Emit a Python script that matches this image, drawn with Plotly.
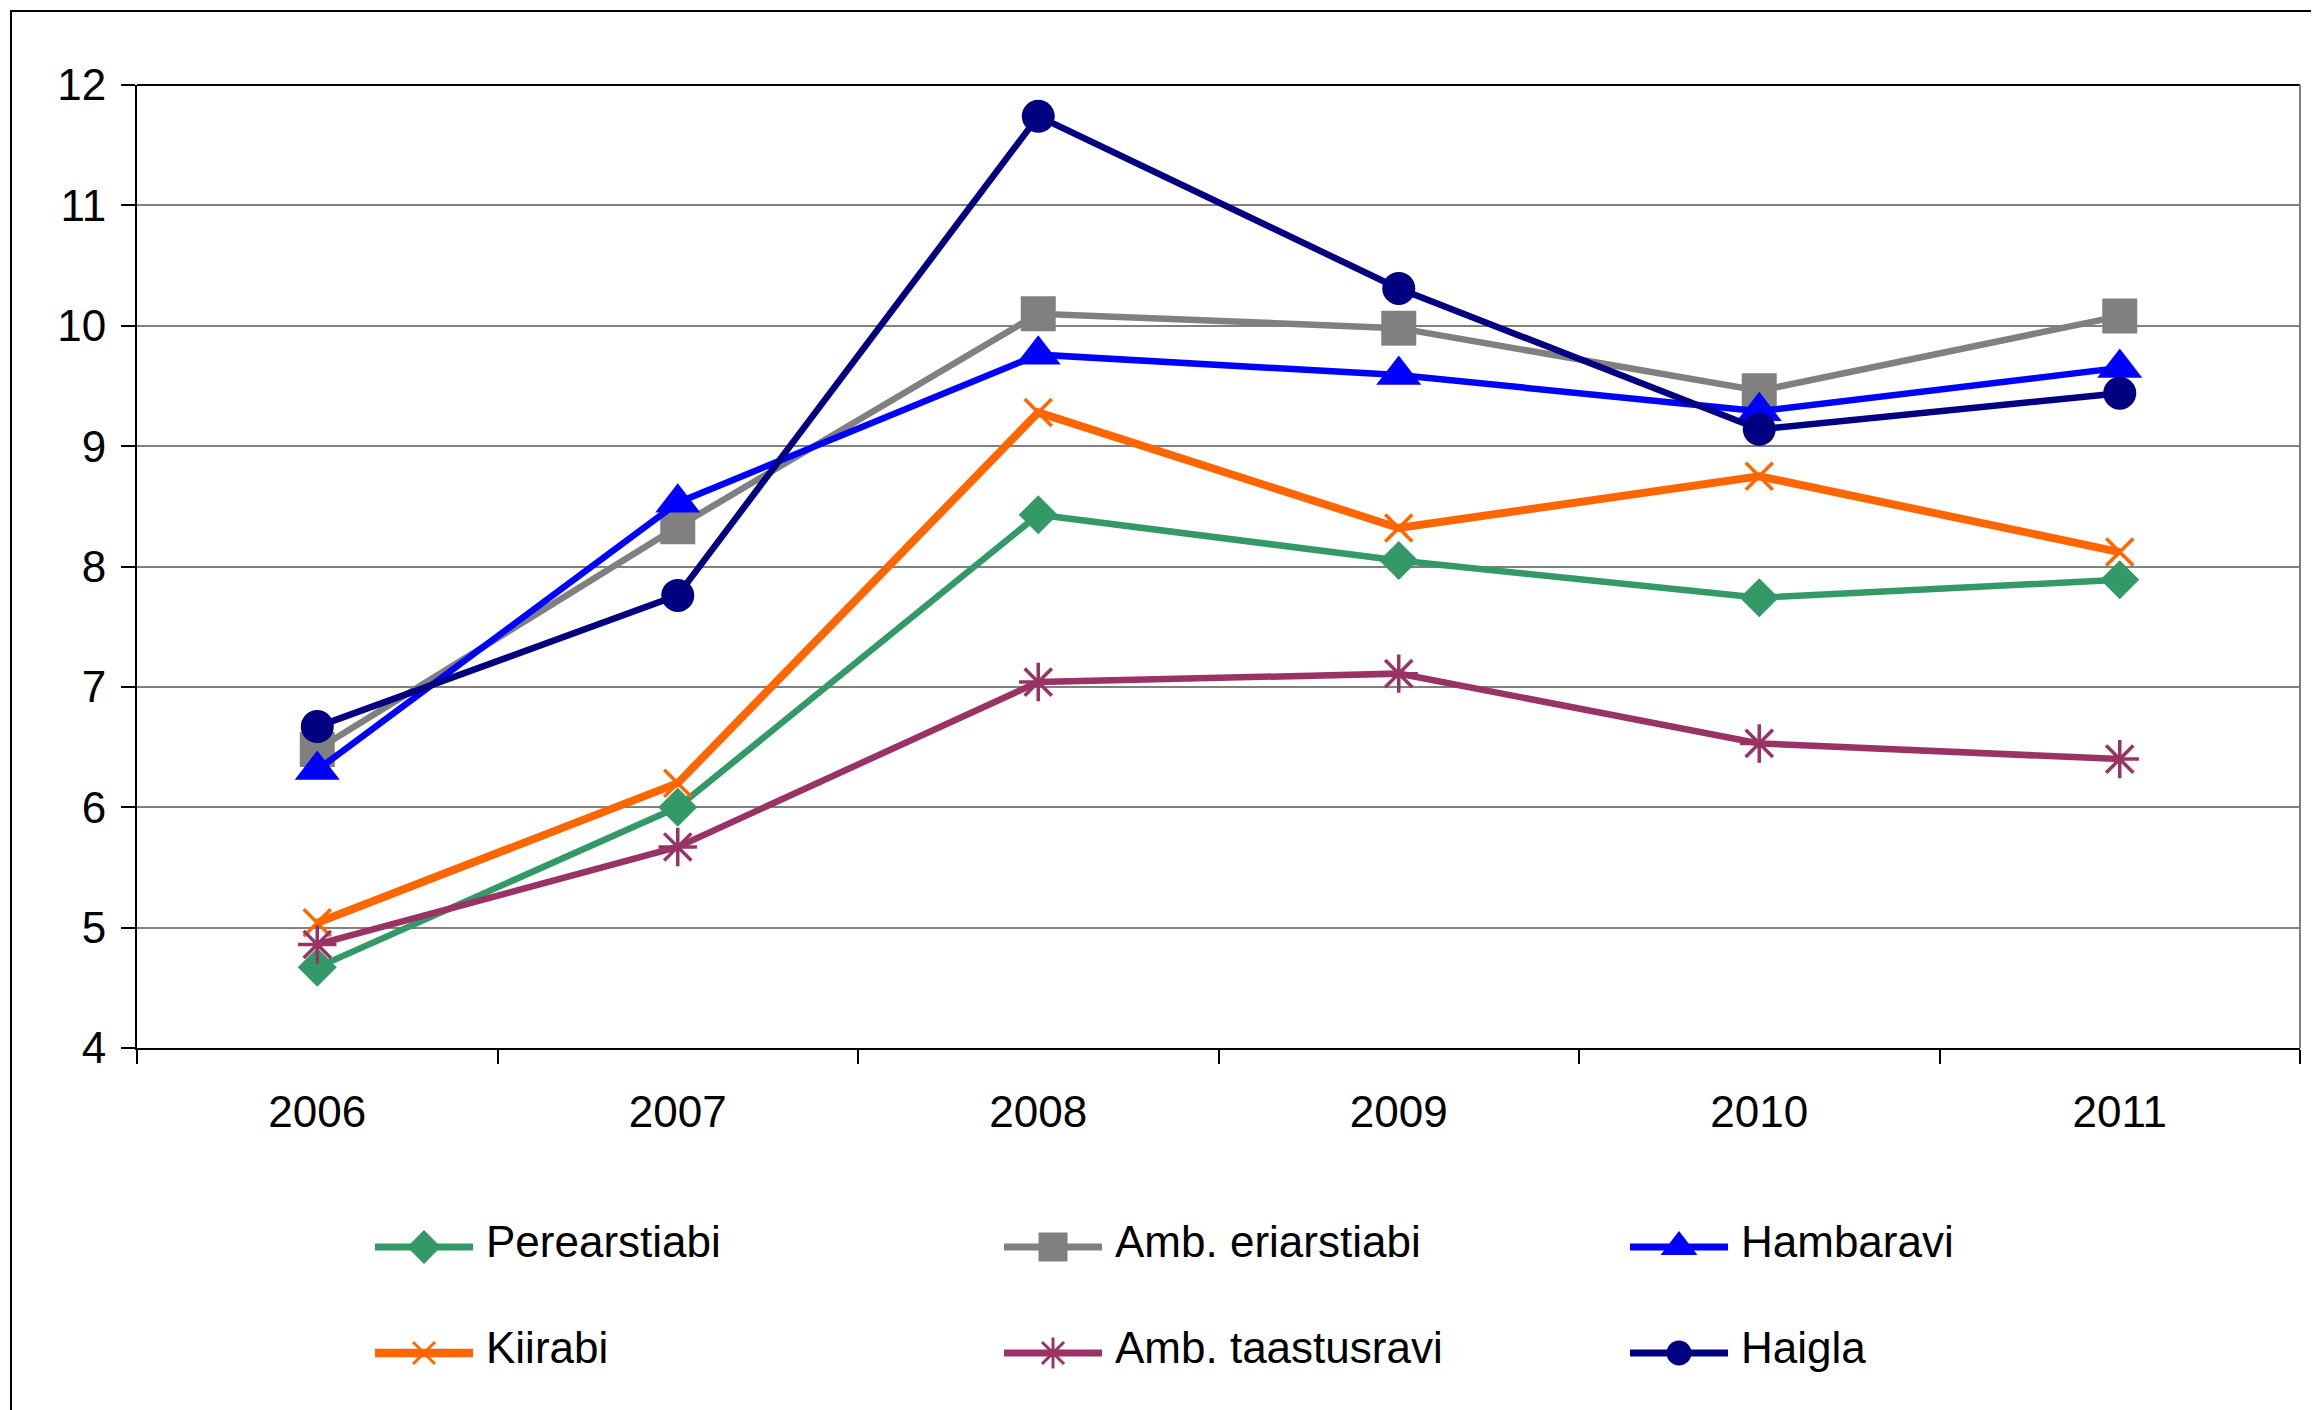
import plotly.graph_objects as go

years = ["2006", "2007", "2008", "2009", "2010", "2011"]

perearstiabi = [4.67, 6.00, 8.43, 8.05, 7.74, 7.89]
amb_eriarstiabi = [6.48, 8.33, 10.10, 9.98, 9.46, 10.08]
hambaravi = [6.31, 8.53, 9.76, 9.59, 9.29, 9.65]
kiirabi = [5.04, 6.20, 9.28, 8.32, 8.75, 8.12]
amb_taastusravi = [4.86, 5.67, 7.04, 7.11, 6.53, 6.40]
haigla = [6.67, 7.76, 11.74, 10.31, 9.14, 9.44]

names = ["Perearstiabi", "Amb. eriarstiabi", "Hambaravi",
         "Kiirabi", "Amb. taastusravi", "Haigla"]
series = [perearstiabi, amb_eriarstiabi, hambaravi, kiirabi, amb_taastusravi, haigla]
colors = ["#339966", "#808080", "#0000FF", "#FF6600", "#993366", "#000080"]
symbols = ["diamond", "square", "triangle-up", "x-thin", "asterisk", "circle"]
sizes = [30, 35, 39, 27, 32, 33]
legend_sizes = [26, 29, 32, 22, 26, 25]
widths = [6.5, 6.5, 6.5, 8, 6.5, 6.5]

FONT = "Liberation Sans, Arial, sans-serif"

# figure geometry (page offset of 8px from default body margin)
W, H = 2311, 1402
OFF = 8
PL, PR, PT, PB = 137 - OFF, 2300 - OFF, 85 - OFF, 1048 - OFF

# legend layout (page pixel positions of the key columns / rows)
leg_cols = [(375, 473), (1004, 1102), (1630, 1728)]
leg_rows = [1247, 1353]

fig = go.Figure()
for name, vals, col, sym, sz, w in zip(names, series, colors, symbols, sizes, widths):
    thin = sym in ("x-thin", "asterisk")
    fig.add_trace(go.Scatter(
        x=years, y=vals, name=name, mode="lines+markers",
        line=dict(color=col, width=w),
        marker=dict(symbol=sym, size=sz, color=col,
                    line=dict(color=col, width=3.5 if thin else 0)),
        showlegend=False, xaxis="x", yaxis="y",
    ))

annotations = []
for i, (name, col, sym, lsz, w) in enumerate(zip(names, colors, symbols, legend_sizes, widths)):
    c0, c1 = leg_cols[i % 3]
    ry = leg_rows[i // 3] - OFF
    xa, xb = c0 - OFF, c1 - OFF
    xc = (xa + xb) / 2
    thin = sym in ("x-thin", "asterisk")
    fig.add_trace(go.Scatter(
        x=[xa, xb], y=[ry, ry], mode="lines", line=dict(color=col, width=w + 0.5),
        showlegend=False, hoverinfo="skip", xaxis="x2", yaxis="y2",
    ))
    fig.add_trace(go.Scatter(
        x=[xc], y=[ry], mode="markers",
        marker=dict(symbol=sym, size=lsz, color=col,
                    line=dict(color=col, width=3 if thin else 0)),
        showlegend=False, hoverinfo="skip", xaxis="x2", yaxis="y2",
    ))
    annotations.append(dict(
        x=xb + 11, y=ry - 6, xref="x2", yref="y2", text=name, showarrow=False,
        xanchor="left", yanchor="middle",
        font=dict(family=FONT, size=44, color="black"),
    ))

fig.update_layout(
    template="none",
    width=W, height=H,
    margin=dict(l=0, r=0, t=0, b=0, pad=0),
    paper_bgcolor="white", plot_bgcolor="rgba(0,0,0,0)",
    font=dict(family=FONT, size=44, color="black"),
    showlegend=False,
    xaxis=dict(type="category", domain=[PL / W, PR / W], anchor="y",
               range=[-0.5, len(years) - 0.5], autorange=False,
               showgrid=False, showline=True, linecolor="black",
               linewidth=2, ticks="outside", tickson="boundaries", ticklen=14,
               tickcolor="black", tickwidth=1.5,
               tickfont=dict(family=FONT, size=44, color="black"),
               ticklabelstandoff=24, zeroline=False, automargin=False),
    yaxis=dict(range=[4, 12], dtick=1, domain=[(H - PB) / H, (H - PT) / H], anchor="x",
               showgrid=True, gridcolor="#808080",
               gridwidth=2, showline=True, linecolor="black", linewidth=2,
               ticks="outside", ticklen=14, tickcolor="black", tickwidth=1.5,
               tickfont=dict(family=FONT, size=44, color="black"),
               ticklabelstandoff=6, zeroline=False, automargin=False),
    xaxis2=dict(domain=[0, 1], range=[0, W], visible=False, anchor="y2",
                fixedrange=True, showgrid=False, zeroline=False),
    yaxis2=dict(domain=[0, 1], range=[H, 0], visible=False, anchor="x2",
                fixedrange=True, showgrid=False, zeroline=False),
    annotations=annotations,
    shapes=[
        dict(type="line", xref="x domain", yref="y domain", x0=0, x1=1, y0=1, y1=1,
             line=dict(color="black", width=2), layer="below"),
        dict(type="line", xref="x domain", yref="y domain", x0=1, x1=1, y0=0, y1=1,
             line=dict(color="#808080", width=2), layer="below"),
        dict(type="rect", xref="paper", yref="paper", x0=(11 - OFF) / W, x1=1.05,
             y0=-0.05, y1=1 - (11 - OFF) / H, line=dict(color="black", width=2),
             fillcolor="rgba(0,0,0,0)", layer="below"),
    ],
)

fig.write_html("out.html")
